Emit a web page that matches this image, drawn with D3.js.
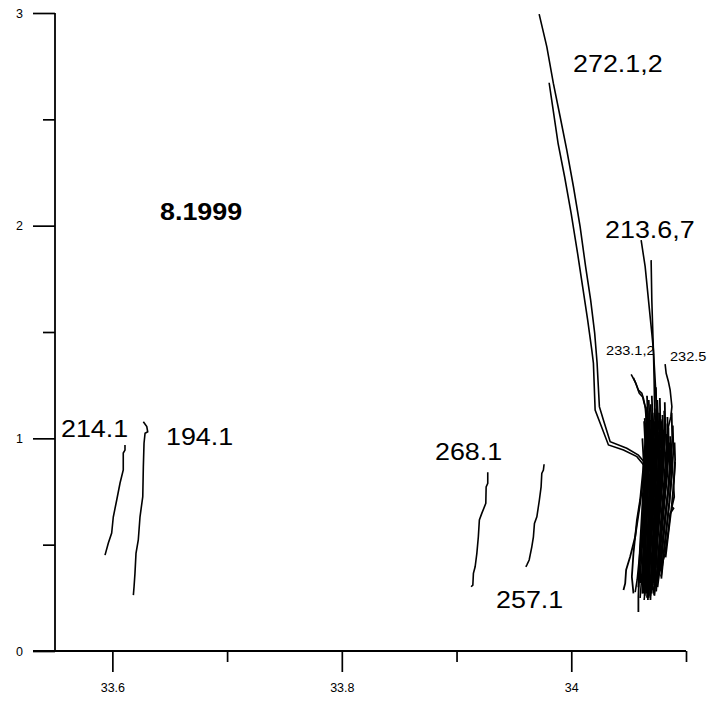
<!DOCTYPE html>
<html lang="en">
<head>
<meta charset="UTF-8">
<title>8.1999 profiles</title>
<style>
  body { margin: 0; background: #fff; }
  svg { display: block; font-family: "Liberation Sans", Arial, sans-serif; }
</style>
</head>
<body>
<script src="https://d3js.org/d3.v7.min.js"></script>
<script>
// axis ticks
const xMajor = [33.6, 33.8, 34];
const xMinor = [33.7, 33.9, 34.1];
const yMajor = [0, 1, 2, 3];
const yMinor = [0.5, 1.5, 2.5];

// labelled profiles [x, y]
const p214_1 = [[33.6110,0.969],[33.6110,0.945],[33.6095,0.931],[33.6095,0.851],[33.6067,0.790],[33.6038,0.710],[33.6008,0.630],[33.5994,0.555],[33.5965,0.508],[33.5936,0.451]];
const p194_1 = [[33.6270,1.078],[33.6300,1.055],[33.6308,1.031],[33.6285,1.024],[33.6276,0.977],[33.6270,0.867],[33.6265,0.726],[33.6241,0.631],[33.6226,0.522],[33.6206,0.459],[33.6197,0.365],[33.6189,0.302],[33.6183,0.263]];
const p268_1 = [[33.9272,0.840],[33.9272,0.788],[33.9258,0.772],[33.9255,0.694],[33.9220,0.647],[33.9199,0.616],[33.9190,0.537],[33.9177,0.459],[33.9162,0.396],[33.9147,0.365],[33.9142,0.310],[33.9127,0.302]];
const p257_1 = [[33.9763,0.878],[33.9757,0.851],[33.9743,0.835],[33.9737,0.772],[33.9722,0.710],[33.9700,0.631],[33.9679,0.600],[33.9670,0.537],[33.9656,0.490],[33.9633,0.428],[33.9612,0.404],[33.9604,0.396]];
const p272_1 = [[33.9720,2.995],[33.9787,2.841],[33.9844,2.669],[33.9903,2.512],[33.9961,2.355],[34.0019,2.183],[34.0077,1.995],[34.0125,1.807],[34.0169,1.650],[34.0204,1.495],[34.0225,1.354],[34.0245,1.149],[34.0280,1.086],[34.0339,0.984],[34.0484,0.953],[34.0585,0.921],[34.0659,0.874],[34.0702,0.835],[34.0722,0.710],[34.0705,0.569],[34.0687,0.428],[34.0670,0.287]];
const p272_2 = [[33.9807,2.672],[33.9842,2.544],[33.9885,2.387],[33.9942,2.230],[33.9999,2.058],[34.0055,1.870],[34.0099,1.713],[34.0143,1.556],[34.0179,1.415],[34.0193,1.353],[34.0208,1.133],[34.0252,1.071],[34.0324,0.969],[34.0455,0.945],[34.0572,0.914],[34.0644,0.866],[34.0687,0.819],[34.0696,0.710],[34.0679,0.569],[34.0661,0.428],[34.0644,0.287],[34.0635,0.240]];
const p213_6 = [[34.0609,1.932],[34.0644,1.807],[34.0673,1.650],[34.0702,1.494],[34.0716,1.415],[34.0731,1.274],[34.0746,1.119],[34.0757,0.992],[34.0775,0.851],[34.0757,0.710],[34.0731,0.569],[34.0705,0.428],[34.0687,0.287]];
const p213_7 = [[34.0696,1.838],[34.0702,1.650],[34.0711,1.494],[34.0716,1.415],[34.0722,1.274],[34.0727,1.119],[34.0740,0.992],[34.0792,0.851],[34.0775,0.710],[34.0748,0.569],[34.0722,0.428],[34.0705,0.287]];
const p233_1 = [[34.0522,1.301],[34.0557,1.266],[34.0585,1.227],[34.0615,1.212],[34.0629,1.188],[34.0644,1.149],[34.0661,1.039],[34.0670,0.898],[34.0653,0.757],[34.0626,0.616],[34.0600,0.475],[34.0574,0.334],[34.0557,0.277]];
const p233_2 = [[34.0542,1.284],[34.0565,1.255],[34.0592,1.213],[34.0622,1.194],[34.0635,1.166],[34.0653,1.133],[34.0679,1.016],[34.0696,0.874],[34.0679,0.733],[34.0653,0.592],[34.0626,0.451],[34.0609,0.310],[34.0600,0.249]];
const p232_5 = [[34.0818,1.349],[34.0827,1.306],[34.0847,1.266],[34.0862,1.227],[34.0877,1.149],[34.0868,1.102],[34.0847,1.055],[34.0844,0.945],[34.0827,0.804],[34.0801,0.663],[34.0775,0.522],[34.0748,0.381],[34.0722,0.263]];

// unlabelled profiles in the dense bundle
const bundle = [
  [[34.0670,1.063],[34.0653,0.945],[34.0629,0.819],[34.0600,0.694],[34.0557,0.537],[34.0513,0.443],[34.0478,0.381],[34.0470,0.318],[34.0455,0.287]],
  [[34.0653,1.039],[34.0626,0.851],[34.0600,0.710],[34.0572,0.616],[34.0542,0.459],[34.0528,0.349],[34.0542,0.271]],
  [[34.0687,1.086],[34.0670,0.969],[34.0644,0.851],[34.0629,0.694],[34.0615,0.537],[34.0594,0.381],[34.0585,0.255],[34.0585,0.183]],
  [[34.0905,0.889],[34.0897,0.827],[34.0891,0.780],[34.0897,0.725],[34.0877,0.678],[34.0891,0.671],[34.0862,0.647],[34.0847,0.569],[34.0818,0.459],[34.0775,0.381],[34.0746,0.334],[34.0716,0.287]],
  [[34.0640,1.095],[34.0655,0.98],[34.0660,0.85],[34.0648,0.72],[34.0630,0.58],[34.0612,0.45],[34.0600,0.32]],
  [[34.0700,1.07],[34.0712,0.95],[34.0705,0.83],[34.0690,0.70],[34.0672,0.56],[34.0655,0.42],[34.0645,0.29]],
  [[34.0740,1.10],[34.0745,1.00],[34.0738,0.88],[34.0722,0.74],[34.0700,0.60],[34.0680,0.46],[34.0668,0.30]],
  [[34.0770,1.06],[34.0782,0.95],[34.0768,0.82],[34.0750,0.68],[34.0730,0.54],[34.0712,0.40],[34.0700,0.27]],
  [[34.0800,1.04],[34.0808,0.92],[34.0795,0.80],[34.0775,0.66],[34.0752,0.52],[34.0735,0.38],[34.0725,0.26]],
  [[34.0830,1.02],[34.0835,0.90],[34.0820,0.78],[34.0798,0.64],[34.0772,0.50],[34.0752,0.37],[34.0740,0.28]],
  [[34.0855,0.98],[34.0858,0.87],[34.0842,0.75],[34.0815,0.62],[34.0790,0.49],[34.0765,0.36],[34.0752,0.30]],
  [[34.0680,1.12],[34.0690,1.01],[34.0682,0.89],[34.0668,0.75],[34.0650,0.61],[34.0636,0.47],[34.0625,0.33]],
  [[34.0720,1.00],[34.0728,0.90],[34.0718,0.78],[34.0700,0.64],[34.0682,0.50],[34.0668,0.37],[34.0660,0.25]],
  [[34.0760,0.96],[34.0766,0.86],[34.0752,0.74],[34.0735,0.60],[34.0715,0.47],[34.0698,0.34],[34.0690,0.24]],
  [[34.0790,1.08],[34.0796,0.97],[34.0785,0.86],[34.0762,0.72],[34.0740,0.58],[34.0722,0.44],[34.0710,0.31]],
  [[34.0660,1.04],[34.0672,0.93],[34.0668,0.80],[34.0655,0.66],[34.0640,0.52],[34.0628,0.39],[34.0620,0.27]],
  [[34.0870,0.92],[34.0872,0.82],[34.0855,0.70],[34.0830,0.58],[34.0805,0.46],[34.0782,0.35]],
  [[34.0810,1.13],[34.0815,1.02],[34.0805,0.90],[34.0785,0.76],[34.0760,0.62],[34.0740,0.48],[34.0725,0.34],[34.0718,0.27]],
  [[34.0620,1.00],[34.0630,0.90],[34.0628,0.78],[34.0615,0.64],[34.0600,0.50],[34.0590,0.38],[34.0585,0.30]],
  [[34.0750,1.18],[34.0758,1.06],[34.0748,0.94],[34.0730,0.80],[34.0712,0.66],[34.0695,0.52],[34.0682,0.38],[34.0675,0.26]],
  [[34.0650,1.15],[34.0658,1.04],[34.0655,0.92],[34.0650,0.78],[34.0642,0.64],[34.0635,0.50],[34.0630,0.36],[34.0628,0.27]],
  [[34.0665,1.13],[34.0676,1.02],[34.0674,0.90],[34.0666,0.76],[34.0656,0.62],[34.0648,0.48],[34.0641,0.34],[34.0640,0.26]],
  [[34.0692,1.16],[34.0700,1.05],[34.0696,0.92],[34.0685,0.79],[34.0672,0.65],[34.0662,0.51],[34.0655,0.37],[34.0652,0.27]],
  [[34.0710,1.12],[34.0720,1.01],[34.0715,0.89],[34.0703,0.76],[34.0690,0.62],[34.0678,0.48],[34.0670,0.35],[34.0668,0.24]],
  [[34.0728,1.14],[34.0735,1.03],[34.0730,0.91],[34.0718,0.78],[34.0704,0.64],[34.0690,0.50],[34.0680,0.36],[34.0676,0.25]],
  [[34.0745,1.10],[34.0752,0.99],[34.0746,0.87],[34.0733,0.74],[34.0718,0.60],[34.0703,0.46],[34.0693,0.33],[34.0690,0.26]],
  [[34.0765,1.12],[34.0770,1.01],[34.0762,0.89],[34.0748,0.76],[34.0732,0.62],[34.0716,0.48],[34.0704,0.35],[34.0700,0.28]],
  [[34.0780,1.09],[34.0788,0.98],[34.0778,0.86],[34.0762,0.73],[34.0745,0.59],[34.0728,0.45],[34.0716,0.32]],
  [[34.0795,1.11],[34.0802,1.00],[34.0792,0.88],[34.0776,0.75],[34.0758,0.61],[34.0740,0.47],[34.0727,0.34]],
  [[34.0822,1.07],[34.0828,0.96],[34.0815,0.84],[34.0796,0.71],[34.0776,0.57],[34.0757,0.44],[34.0744,0.32]],
  [[34.0845,1.05],[34.0850,0.94],[34.0835,0.82],[34.0812,0.69],[34.0790,0.56],[34.0770,0.43],[34.0756,0.33]],
  [[34.0862,1.01],[34.0866,0.90],[34.0850,0.78],[34.0826,0.66],[34.0803,0.54],[34.0782,0.42]],
  [[34.0635,1.08],[34.0645,0.97],[34.0645,0.85],[34.0640,0.71],[34.0632,0.57],[34.0625,0.43],[34.0620,0.31]],
  [[34.0702,1.20],[34.0708,1.10],[34.0704,0.97],[34.0694,0.84],[34.0680,0.70],[34.0668,0.56],[34.0660,0.42],[34.0656,0.29]],
  [[34.0738,1.24],[34.0742,1.12],[34.0737,0.99],[34.0724,0.86],[34.0708,0.72],[34.0694,0.58],[34.0684,0.44],[34.0679,0.31]],
  [[34.0772,1.19],[34.0776,1.08],[34.0768,0.95],[34.0752,0.82],[34.0734,0.68],[34.0718,0.54],[34.0706,0.40]],
  [[34.0815,1.17],[34.0819,1.06],[34.0808,0.93],[34.0790,0.80],[34.0770,0.66],[34.0750,0.52],[34.0736,0.39]],
  [[34.0675,1.18],[34.0684,1.07],[34.0682,0.95],[34.0672,0.81],[34.0660,0.67],[34.0650,0.53],[34.0644,0.39],[34.0642,0.28]],
  [[34.0885,1.06],[34.0890,0.95],[34.0878,0.83],[34.0855,0.70],[34.0830,0.57],[34.0805,0.45],[34.0785,0.34]],
  [[34.0900,0.98],[34.0905,0.90],[34.0895,0.80],[34.0875,0.68],[34.0848,0.56],[34.0822,0.44]],
  [[34.0875,1.12],[34.0880,1.00],[34.0868,0.88],[34.0845,0.75],[34.0820,0.62],[34.0798,0.50],[34.0778,0.38]],
  [[34.0660,1.20],[34.0668,1.10],[34.0664,0.98],[34.0655,0.85],[34.0645,0.72],[34.0637,0.58],[34.0632,0.44],[34.0630,0.32]],
  [[34.0725,1.08],[34.0732,0.97],[34.0722,0.85],[34.0708,0.72],[34.0694,0.58],[34.0682,0.44],[34.0672,0.30]],
  [[34.0755,1.03],[34.0762,0.93],[34.0755,0.81],[34.0740,0.68],[34.0722,0.55],[34.0706,0.42],[34.0695,0.29]],
  [[34.0838,1.10],[34.0843,0.99],[34.0830,0.87],[34.0808,0.74],[34.0784,0.60],[34.0762,0.47],[34.0748,0.35]],
  [[34.0695,1.03],[34.0705,0.93],[34.0700,0.81],[34.0688,0.68],[34.0673,0.54],[34.0662,0.40],[34.0656,0.30]]
];

// station labels: text, x, y (baseline start)
const labelText = ["272.1,2", "213.6,7", "233.1,2", "232.5", "214.1", "194.1", "268.1", "257.1"];
const labelX = [34.0015, 34.0294, 34.0303, 34.0860, 33.5552, 33.6467, 33.8812, 33.9344];
const labelY = [2.723, 1.942, 1.392, 1.364, 1.006, 0.969, 0.898, 0.202];
const labelBig = [true, true, false, false, true, true, true, true];
const title = { text: "8.1999", x: 33.6415, y: 2.027 };

const W = 719, H = 702;
const svg = d3.select("body").append("svg").attr("width", W).attr("height", H);

const x = d3.scaleLinear().domain([33.55, 34.1]).range([55, 686]);
const y = d3.scaleLinear().domain([0, 3]).range([651, 13]);

// axes
const yAx = svg.append("g").attr("transform", `translate(${x(33.55)},0)`);
yAx.call(d3.axisLeft(y).tickValues(yMajor).tickSize(22).tickPadding(10).tickFormat(d3.format("d")));
const yAx2 = svg.append("g").attr("transform", `translate(${x(33.55)},0)`);
yAx2.call(d3.axisLeft(y).tickValues(yMinor).tickSize(12).tickFormat(""));

const xAx = svg.append("g").attr("transform", `translate(0,${y(0)})`);
xAx.call(d3.axisBottom(x).tickValues(xMajor).tickSize(21).tickPadding(11).tickFormat(d => d3.format("")(+d.toFixed(1))));
const xAx2 = svg.append("g").attr("transform", `translate(0,${y(0)})`);
xAx2.call(d3.axisBottom(x).tickValues(xMinor).tickSize(11).tickFormat(""));

svg.selectAll(".domain").remove();
svg.selectAll(".tick line").attr("stroke", "#000").attr("stroke-width", 1.7);
svg.selectAll(".tick text").attr("fill", "#000").attr("font-size", 12.5)
  .attr("font-family", "'Liberation Sans', Arial, sans-serif");

svg.append("line").attr("x1", x(33.55)).attr("x2", x(33.55))
  .attr("y1", y(0)).attr("y2", y(3)).attr("stroke", "#000").attr("stroke-width", 1.8);
svg.append("line").attr("x1", x(33.55) - 22).attr("x2", x(34.1))
  .attr("y1", y(0)).attr("y2", y(0)).attr("stroke", "#000").attr("stroke-width", 1.8);

// profiles
const line = d3.line().x(d => x(d[0])).y(d => y(d[1]));
const labelled = [p214_1, p194_1, p268_1, p257_1, p272_1, p272_2, p213_6, p213_7, p233_1, p233_2, p232_5];
svg.append("g").selectAll("path")
  .data(labelled)
  .join("path")
  .attr("d", line)
  .attr("fill", "none")
  .attr("stroke", "#000")
  .attr("stroke-width", 1.6);

svg.append("g").selectAll("path")
  .data(bundle)
  .join("path")
  .attr("d", line)
  .attr("fill", "none")
  .attr("stroke", "#000")
  .attr("stroke-width", 1.8);

// labels
labelText.forEach((t, i) => {
  svg.append("g")
    .attr("transform", `translate(${x(labelX[i])},${y(labelY[i])}) scale(1.12,1)`)
    .append("text")
    .text(t)
    .attr("font-size", labelBig[i] ? 24 : 13)
    .attr("fill", "#000");
});

svg.append("g")
  .attr("transform", `translate(${x(title.x)},${y(title.y)}) scale(1.12,1)`)
  .append("text")
  .text(title.text)
  .attr("font-size", 24)
  .attr("font-weight", "bold")
  .attr("fill", "#000");
</script>
</body>
</html>
